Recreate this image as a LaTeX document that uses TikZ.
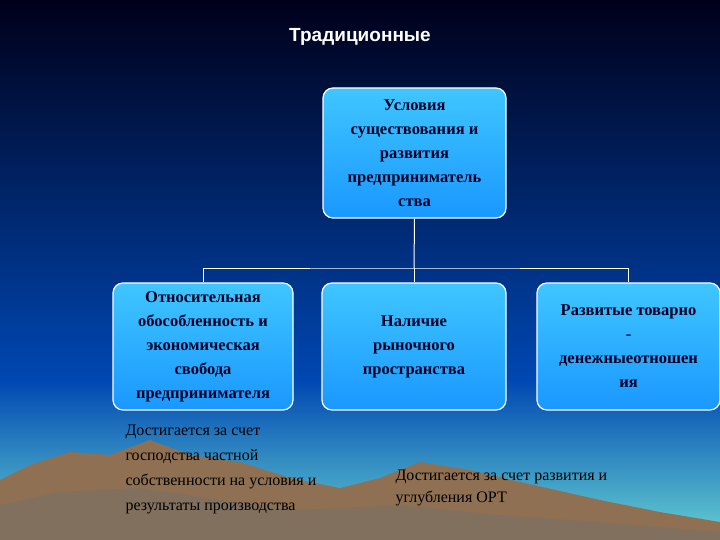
\documentclass[tikz,border=0pt]{standalone}
\usepackage{fontspec}
\setmainfont{Liberation Serif}
\newfontfamily\titlefont{Liberation Sans}
\begin{document}
\begin{tikzpicture}[x=1pt,y=-1pt,
  box/.style={draw=white,line width=1.2pt,rounded corners=10pt,top color=blue!30!cyan!75!white,bottom color=blue!45!cyan!90!white,inner sep=2pt,align=center,font=\bfseries\fontsize{16.5}{24}\selectfont,text=black!85!blue},
  conn/.style={draw=white,line width=1pt},
  note/.style={align=left,anchor=north west,text=black}]
\useasboundingbox (0,0) rectangle (720,540);
\shade[top color=black!90!blue,bottom color=blue!60!cyan!70!black] (0,0) rectangle (720,380);
\shade[top color=blue!60!cyan!70!black,bottom color=cyan!40!teal!60] (0,380) rectangle (720,540);
% mountains
\fill[brown!60!black!80] (0,480) -- (30,465) -- (70,452) -- (110,455) -- (150,440) -- (190,455) -- (240,462) -- (290,478) -- (340,488) -- (380,478) -- (420,462) -- (470,470) -- (520,482) -- (600,500) -- (660,512) -- (720,522) -- (720,540) -- (0,540) -- cycle;
\fill[brown!40!black!70] (0,505) -- (60,492) -- (140,488) -- (220,500) -- (300,510) -- (400,505) -- (500,515) -- (600,522) -- (720,532) -- (720,540) -- (0,540) -- cycle;
\node[font=\titlefont\bfseries\fontsize{19}{22}\selectfont,text=white] (title) at (360,37) {Традиционные};
\node[box,minimum width=183pt,minimum height=130pt] (top) at (414.5,153) {Условия\\существования и\\развития\\предприниматель\\ства};
\node[box,minimum width=180pt,minimum height=127pt] (l) at (203,346.5) {Относительная\\обособленность и\\экономическая\\свобода\\предпринимателя};
\node[box,minimum width=184pt,minimum height=127pt] (m) at (414,346.5) {Наличие\\рыночного\\пространства};
\node[box,minimum width=183pt,minimum height=127pt] (r) at (628.5,346.5) {Развитые товарно\\-\\денежныеотношен\\ия};
\coordinate (j) at (414,268);
\draw[conn] (top.south) -- (j);
\draw[conn] (l.north) |- (j) -| (r.north);
\draw[conn] (j) -- (m.north);
\node[note,font=\fontsize{16}{25}\selectfont] (n1) at (122,421) {Достигается за счет\\господства частной\\собственности на условия и\\результаты производства};
\node[note,font=\fontsize{16}{22}\selectfont] (n2) at (392,466) {Достигается за счет развития и\\углубления ОРТ};
\end{tikzpicture}
\end{document}
